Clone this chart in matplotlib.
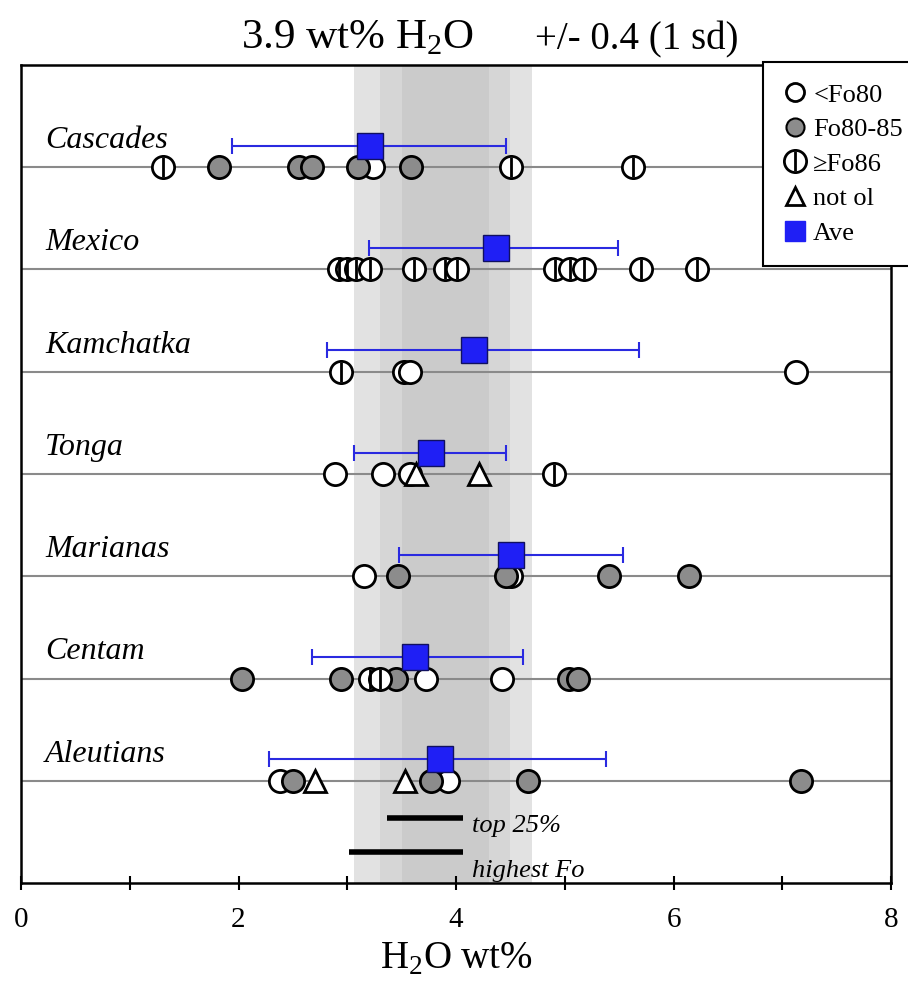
import matplotlib
matplotlib.use('Agg')
import matplotlib.pyplot as plt
from matplotlib.lines import Line2D
import numpy as np

######### data
regions = ["Cascades", "Mexico", "Kamchatka", "Tonga", "Marianas", "Centam", "Aleutians"]
row_y = [7, 6, 5, 4, 3, 2, 1]

# H2O wt% per olivine class
lt_fo80 = {
    "Cascades": [3.24],
    "Mexico": [],
    "Kamchatka": [3.52, 3.58, 7.13],
    "Tonga": [2.89, 3.33, 3.58],
    "Marianas": [3.15, 4.51],
    "Centam": [3.72, 4.42],
    "Aleutians": [2.38, 3.93],
}
fo80_85 = {
    "Cascades": [1.82, 2.56, 2.68, 3.10, 3.59],
    "Mexico": [],
    "Kamchatka": [],
    "Tonga": [],
    "Marianas": [3.47, 4.46, 5.41, 6.14],
    "Centam": [2.03, 2.94, 3.45, 5.04, 5.12],
    "Aleutians": [2.50, 3.77, 4.66, 7.17],
}
ge_fo86 = {
    "Cascades": [1.31, 4.51, 5.63],
    "Mexico": [2.92, 3.00, 3.08, 3.21, 3.61, 3.90, 4.01, 4.91, 5.05, 5.18, 5.70, 6.22],
    "Kamchatka": [2.94],
    "Tonga": [4.90],
    "Marianas": [],
    "Centam": [3.21, 3.30],
    "Aleutians": [],
}
not_ol = {
    "Cascades": [],
    "Mexico": [],
    "Kamchatka": [],
    "Tonga": [3.63, 4.21],
    "Marianas": [],
    "Centam": [],
    "Aleutians": [2.70, 3.53],
}
ave = [3.21, 4.37, 4.17, 3.77, 4.51, 3.62, 3.85]
ave_lo = [1.94, 3.20, 2.81, 3.06, 3.48, 2.68, 2.28]
ave_hi = [4.46, 5.49, 5.68, 4.46, 5.54, 4.62, 5.38]

MEAN = 3.9
SD = 0.4
top25 = [3.37, 4.06]
highest_fo = [3.02, 4.06]
######### end data

SERIF = ['Liberation Serif', 'DejaVu Serif']
plt.rcParams['font.family'] = SERIF
plt.rcParams['mathtext.fontset'] = 'custom'
plt.rcParams['mathtext.rm'] = 'Liberation Serif'

fig = plt.figure(figsize=(9.08, 9.88), dpi=100)
ax = fig.add_axes([21 / 908, 105 / 988, 870 / 908, 818 / 988])

# shaded band around the mean
ax.axvspan(MEAN - 2.1 * SD, MEAN + 2 * SD, color='#e2e2e2', lw=0, zorder=0)
ax.axvspan(MEAN - 1.5 * SD, MEAN + 1.5 * SD, color='#d6d6d6', lw=0, zorder=0)
ax.axvspan(MEAN - SD, MEAN + SD, color='#cbcbcb', lw=0, zorder=0)

MS = 16
for name, y in zip(regions, row_y):
    ax.plot([0, 8], [y, y], color='#8a8a8a', lw=1.5, zorder=1)
    ax.text(0.22, y + 0.26, name, fontsize=23, style='italic', va='center', ha='left', zorder=2)
    xs = lt_fo80[name]
    ax.plot(xs, [y] * len(xs), 'o', ms=MS, mfc='white', mec='black', mew=2, zorder=3)
    xs = fo80_85[name]
    ax.plot(xs, [y] * len(xs), 'o', ms=MS, mfc='#8c8c8c', mec='black', mew=2, zorder=3)
    xs = ge_fo86[name]
    ax.plot(xs, [y] * len(xs), 'o', ms=MS, mfc='white', mec='black', mew=2, zorder=3)
    ax.plot(xs, [y] * len(xs), '|', ms=MS - 2, mec='black', mew=2, zorder=3)
    xs = not_ol[name]
    ax.plot(xs, [y] * len(xs), '^', ms=MS, mfc='white', mec='black', mew=2, zorder=3)

ave_y = [y + 0.21 for y in row_y]
ax.errorbar(ave, ave_y, xerr=[np.array(ave) - np.array(ave_lo), np.array(ave_hi) - np.array(ave)],
            fmt='none', ecolor='#2a2ae0', elinewidth=1.5, capsize=6, capthick=1.5, zorder=4)
ax.plot(ave, ave_y, 's', ms=19, mfc='#1f1ff5', mec='#101060', mew=1, zorder=5)

# top 25% / highest Fo bars
ax.plot(top25, [0.64, 0.64], color='black', lw=4, solid_capstyle='butt', zorder=3)
ax.plot(highest_fo, [0.30, 0.30], color='black', lw=4, solid_capstyle='butt', zorder=3)
ax.text(4.15, 0.56, 'top 25%', fontsize=19, style='italic', va='center', ha='left')
ax.text(4.15, 0.12, 'highest Fo', fontsize=19, style='italic', va='center', ha='left')

ax.set_xlim(0, 8)
ax.set_ylim(0, 8)
ax.set_yticks([])
ax.set_xticks([0, 2, 4, 6, 8])
ax.set_xticks([1, 3, 5, 7], minor=True)
ax.tick_params(axis='x', which='both', direction='inout', length=10, width=1.5, labelsize=21, pad=12)
for sp in ax.spines.values():
    sp.set_linewidth(1.8)
ax.set_xlabel('H$_2$O wt%', fontsize=28, labelpad=6)

fig.text(0.522, 0.962, '3.9 wt% H$_2$O', fontsize=31, ha='right', va='center')
fig.text(0.589, 0.960, '+/- 0.4 (1 sd)', fontsize=28, ha='left', va='center')

# legend
h_lt = Line2D([], [], marker='o', ls='none', ms=13, mfc='white', mec='black', mew=2)
h_mid = Line2D([], [], marker='o', ls='none', ms=13, mfc='#8c8c8c', mec='black', mew=1.5)
h_hi = (Line2D([], [], marker='o', ls='none', ms=16, mfc='white', mec='black', mew=2),
        Line2D([], [], marker='|', ls='none', ms=14, mec='black', mew=2))
h_tri = Line2D([], [], marker='^', ls='none', ms=13, mfc='white', mec='black', mew=2)
h_ave = Line2D([], [], marker='s', ls='none', ms=15, mfc='#1f1ff5', mec='#1f1ff5')
leg = fig.legend([h_lt, h_mid, h_hi, h_tri, h_ave],
                 ['<Fo80', 'Fo80-85', '\u2265Fo86', 'not ol', 'Ave'],
                 loc='upper left', bbox_to_anchor=(763 / 908, 1 - 62 / 988),
                 borderaxespad=0, fontsize=19, frameon=True, fancybox=False, handlelength=0.8,
                 handletextpad=0.3, borderpad=0.8, labelspacing=0.42)
leg.get_frame().set_edgecolor('black')
leg.get_frame().set_linewidth(1.5)
leg.get_frame().set_alpha(1)
leg.set_zorder(10)

fig.savefig('out.png', dpi=100)
